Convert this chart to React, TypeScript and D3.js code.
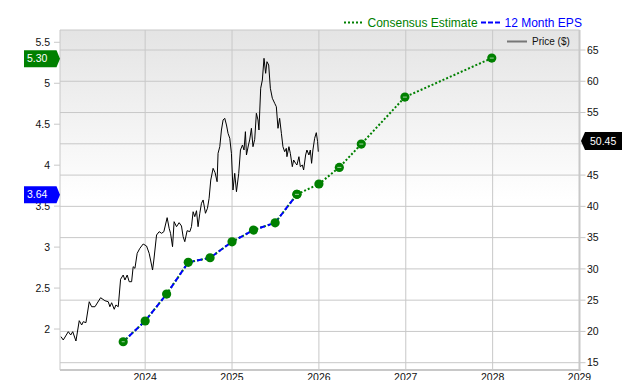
import React from 'react';
import * as d3 from 'd3';

// ---- data ----
const epsDates = [2023.747, 2024.0, 2024.247, 2024.496, 2024.747, 2025.0, 2025.247, 2025.496, 2025.747];
const epsValues = [1.845, 2.098, 2.427, 2.814, 2.87, 3.065, 3.208, 3.297, 3.644];
const estDates = [2025.747, 2026.0, 2026.235, 2026.488, 2026.99, 2027.99];
const estValues = [3.644, 3.77, 3.973, 4.258, 4.831, 5.307];
const estMarked = [true, false, true, true, true, true];

const priceDates = [
  2023.031, 2023.057, 2023.115, 2023.143, 2023.166, 2023.203, 2023.241, 2023.269, 2023.287, 2023.318,
  2023.356, 2023.384, 2023.422, 2023.487, 2023.537, 2023.575, 2023.594, 2023.614, 2023.644, 2023.663,
  2023.69, 2023.717, 2023.747, 2023.767, 2023.793, 2023.816, 2023.844, 2023.862, 2023.882, 2023.908,
  2023.939, 2023.977, 2024.016, 2024.046, 2024.062, 2024.085, 2024.1, 2024.131, 2024.161, 2024.189,
  2024.215, 2024.253, 2024.276, 2024.292, 2024.315, 2024.333, 2024.361, 2024.391, 2024.418, 2024.437,
  2024.456, 2024.483, 2024.514, 2024.533, 2024.552, 2024.571, 2024.591, 2024.609, 2024.629, 2024.648,
  2024.667, 2024.694, 2024.717, 2024.736, 2024.755, 2024.782, 2024.805, 2024.828, 2024.839, 2024.859,
  2024.878, 2024.897, 2024.916, 2024.936, 2024.954, 2024.974, 2024.993, 2025.011, 2025.031, 2025.051,
  2025.077, 2025.097, 2025.12, 2025.138, 2025.154, 2025.166, 2025.189, 2025.203, 2025.223, 2025.241,
  2025.261, 2025.28, 2025.299, 2025.31, 2025.33, 2025.349, 2025.368, 2025.387, 2025.402, 2025.422,
  2025.441, 2025.464, 2025.491, 2025.51, 2025.529, 2025.548, 2025.568, 2025.586, 2025.606, 2025.625,
  2025.632, 2025.655, 2025.671, 2025.694, 2025.709, 2025.732, 2025.747, 2025.77, 2025.786, 2025.809,
  2025.824, 2025.847, 2025.862, 2025.885, 2025.901, 2025.916, 2025.931, 2025.951, 2025.97, 2025.985,
  2025.993,
];
const priceValues = [
  19.16, 18.63, 19.96, 19.43, 19.96, 18.47, 21.72, 21.03, 21.56, 21.4,
  24.75, 23.95, 23.95, 25.39, 24.91, 24.75, 23.95, 24.59, 23.54, 24.23,
  23.95, 28.34, 29.02, 28.22, 29.02, 27.95, 27.95, 30.35, 30.09, 32.49,
  33.29, 33.98, 33.66, 32.49, 31.42, 29.82, 31.42, 35.42, 35.95, 35.69,
  35.95, 38.19, 36.49, 35.69, 33.55, 37.55, 36.75, 37.39, 36.86, 35.15,
  34.35, 36.11, 35.95, 36.75, 39.14, 38.35, 39.3, 36.75, 38.89, 40.49,
  41.02, 38.89, 39.69, 41.29, 44.21, 46.08, 45.38, 43.94, 48.48, 49.54,
  52.21, 53.81, 54.08, 53.01, 51.68, 50.88, 48.48, 42.61, 45.28, 42.34,
  45.28, 49.01, 49.81, 49.01, 51.94, 48.21, 49.81, 50.61, 52.48, 49.54,
  50.72, 54.88, 53.81, 52.21, 58.88, 60.2, 63.67, 61.27, 63.13, 62.6,
  58.88, 57.28, 56.48, 55.93, 52.48, 54.08, 51.68, 49.54, 48.74, 49.28,
  47.94, 49.54, 48.48, 46.34, 47.41, 46.88, 46.61, 47.94, 46.34, 46.61,
  45.81, 48.21, 49.01, 48.21, 49.01, 46.88, 49.01, 50.88, 51.78, 50.34,
  48.74,
];

const yearTicks = [2024, 2025, 2026, 2027, 2028, 2029];
const epsTicks = [2, 2.5, 3, 3.5, 4, 4.5, 5, 5.5];
const priceTicks = [15, 20, 25, 30, 35, 40, 45, 50, 55, 60, 65];
const lastEpsLabel = 3.64;
const lastEstLabel = 5.3;
const lastPriceLabel = 50.45;

const legendLabels = ['Consensus Estimate', '12 Month EPS', 'Price ($)'];

// ---- layout ----
const W = 640;
const H = 380;
const L = 60;
const R = 579.5;
const T = 30;
const B = 370;

const GREEN = '#008000';
const BLUE = '#0000ff';
const GRID = '#c8c8c8';
const FONT = 'Liberation Sans, Arial, sans-serif';

export default function App() {
  const x = d3.scaleLinear().domain([2023.0195, 2029]).range([L, R]);
  const yEps = d3.scaleLinear().domain([1.5, 5.65]).range([B, T]);
  const yPrice = d3.scaleLinear().domain([13.833, 68.198]).range([B, T]);

  const priceLine = d3
    .line<number>()
    .x((_, i) => x(priceDates[i]))
    .y((d) => yPrice(d));
  const epsLine = d3
    .line<number>()
    .x((_, i) => x(epsDates[i]))
    .y((d) => yEps(d));
  const estLine = d3
    .line<number>()
    .x((_, i) => x(estDates[i]))
    .y((d) => yEps(d));

  const leftTag = (cy: number) =>
    `M24,${cy - 8.5} L56.5,${cy - 8.5} L60,${cy} L56.5,${cy + 8.5} L24,${cy + 8.5} Z`;
  const rightTag = (cy: number) =>
    `M581,${cy} L585,${cy - 9} L622,${cy - 9} L622,${cy + 9} L585,${cy + 9} Z`;

  const yE = yEps(lastEstLabel);
  const yH = yEps(lastEpsLabel);
  const yP = yPrice(lastPriceLabel);

  return (
    <svg
      width={W}
      height={H}
      style={{ position: 'fixed', left: 0, top: 0, background: '#fff' }}
      fontFamily={FONT}
    >
      <defs>
        <linearGradient id="bg" x1="0" y1="0" x2="0" y2="1">
          <stop offset="0" stopColor="#e4e4e4" />
          <stop offset="0.5" stopColor="#ffffff" />
          <stop offset="1" stopColor="#ffffff" />
        </linearGradient>
        <clipPath id="plot">
          <rect x={L} y={T} width={R - L} height={B - T} />
        </clipPath>
      </defs>

      <rect x={L} y={T} width={R - L} height={B - T} fill="url(#bg)" />

      {/* horizontal grid (price ticks) */}
      {priceTicks.map((t) => (
        <line key={'hg' + t} x1={L} x2={R} y1={yPrice(t)} y2={yPrice(t)} stroke={GRID} strokeWidth={1} />
      ))}
      {/* vertical grid */}
      {yearTicks.map((t) => (
        <line key={'vg' + t} x1={x(t)} x2={x(t)} y1={T} y2={B} stroke={GRID} strokeWidth={1} />
      ))}

      {/* frame */}
      <line x1={L} x2={R} y1={T} y2={T} stroke={GRID} strokeWidth={1} />
      <line x1={L} x2={L} y1={T} y2={B} stroke={GRID} strokeWidth={1} />
      <line x1={L} x2={R + 1} y1={B} y2={B} stroke={GRID} strokeWidth={2} />
      <line x1={R} x2={R} y1={T} y2={B + 1} stroke={GRID} strokeWidth={2} />

      {/* left axis */}
      {epsTicks.map((t) => (
        <g key={'le' + t}>
          <line x1={54} x2={L} y1={yEps(t)} y2={yEps(t)} stroke={GRID} />
          <text x={50} y={yEps(t)} dy="0.35em" textAnchor="end" fontSize={10.5} fill="#111">
            {String(t)}
          </text>
        </g>
      ))}
      {/* right axis (labels hidden under the price tag are skipped) */}
      {priceTicks.map((t) => (
        <g key={'ri' + t}>
          <line x1={R} x2={R + 6} y1={yPrice(t)} y2={yPrice(t)} stroke={GRID} />
          {Math.abs(yPrice(t) - yP) > 9 && (
            <text x={587} y={yPrice(t)} dy="0.35em" fontSize={10.5} fill="#111">
              {String(t)}
            </text>
          )}
        </g>
      ))}
      {/* bottom axis */}
      {yearTicks.map((t) => (
        <text key={'bx' + t} x={x(t)} y={381} textAnchor="middle" fontSize={10.5} fill="#111">
          {String(t)}
        </text>
      ))}

      <g clipPath="url(#plot)">
        <path d={priceLine(priceValues) || ''} fill="none" stroke="#000" strokeWidth={1} strokeLinejoin="round" />
        <path d={epsLine(epsValues) || ''} fill="none" stroke={GREEN} strokeWidth={2} strokeDasharray="2,2" />
        <path d={epsLine(epsValues) || ''} fill="none" stroke={BLUE} strokeWidth={2} strokeDasharray="5,3" />
        <path d={estLine(estValues) || ''} fill="none" stroke={GREEN} strokeWidth={2} strokeDasharray="2,2" />
        {epsValues.map((v, i) => (
          <g key={'em' + i}>
            <circle cx={x(epsDates[i])} cy={yEps(v)} r={4.6} fill={GREEN} />
            {i === 0 && (
              <line x1={x(epsDates[i]) - 1.5} x2={x(epsDates[i]) + 1.5} y1={yEps(v)} y2={yEps(v)} stroke="#9fd09f" strokeWidth={1} />
            )}
          </g>
        ))}
        {estValues.map((v, i) => (
          <g key={'es' + i}>
            <circle cx={x(estDates[i])} cy={yEps(v)} r={4.6} fill={GREEN} />
            {estMarked[i] && (
              <line x1={x(estDates[i]) - 2} x2={x(estDates[i]) + 2} y1={yEps(v)} y2={yEps(v)} stroke="#9fd09f" strokeWidth={1} />
            )}
          </g>
        ))}
      </g>

      {/* price legend inside plot */}
      <line x1={507} x2={527} y1={41.5} y2={41.5} stroke="#777" strokeWidth={2} />
      <text x={532} y={41.5} dy="0.35em" fontSize={10} fill="#111">
        {legendLabels[2]}
      </text>

      {/* top legend */}
      <line x1={344} x2={362} y1={22.5} y2={22.5} stroke={GREEN} strokeWidth={2} strokeDasharray="2,2" />
      <text x={367.5} y={22.5} dy="0.36em" fontSize={12} fill={GREEN}>
        {legendLabels[0]}
      </text>
      <line x1={481} x2={501} y1={22.5} y2={22.5} stroke={BLUE} strokeWidth={2} strokeDasharray="5,2" />
      <text x={504.5} y={22.5} dy="0.36em" fontSize={12} fill={BLUE}>
        {legendLabels[1]}
      </text>

      {/* value tags */}
      <path d={leftTag(yE)} fill={GREEN} />
      <text x={27} y={yE} dy="0.36em" fontSize={10.5} fill="#fff">
        {lastEstLabel.toFixed(2)}
      </text>
      <path d={leftTag(yH)} fill={BLUE} />
      <text x={27} y={yH} dy="0.36em" fontSize={10.5} fill="#fff">
        {lastEpsLabel.toFixed(2)}
      </text>
      <path d={rightTag(yP)} fill="#000" />
      <text x={590} y={yP} dy="0.36em" fontSize={10.5} fill="#fff">
        {lastPriceLabel.toFixed(2)}
      </text>
    </svg>
  );
}
